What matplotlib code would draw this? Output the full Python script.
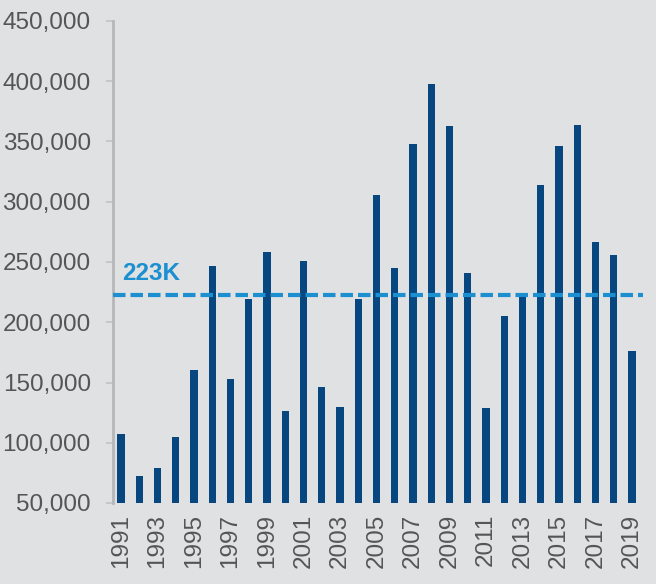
import matplotlib
matplotlib.use("Agg")
import matplotlib.pyplot as plt
from matplotlib.ticker import FuncFormatter, FixedLocator

years = list(range(1991, 2020))
values = [107000, 72000, 79000, 105000, 160000, 247000, 153000, 219000, 258000, 126000,
          251000, 146000, 130000, 219000, 306000, 245000, 348000, 398000, 363000, 241000,
          129000, 205000, 222000, 314000, 346000, 364000, 267000, 256000, 176000]
average = 223000
average_label = "223K"
y_ticks = [50000, 100000, 150000, 200000, 250000, 300000, 350000, 400000, 450000]

plt.rcParams['font.family'] = ['Liberation Sans', 'DejaVu Sans']

bg = '#dfe1e3'
fig = plt.figure(figsize=(6.56, 5.84), dpi=100, facecolor=bg)
ax = fig.add_axes([113/656, 1-503/584, (643-113)/656, (503-21)/584])
ax.set_facecolor(bg)

x = list(range(len(years)))
ax.bar(x, values, width=0.4, color='#07467f', zorder=2)
ax.axhline(average, color='#1b8fd0', lw=3, ls=(0, (3.0, 1.2)), zorder=3)
ax.text(0.05, average + 8000, average_label, color='#1b8fd0', fontsize=17.5,
        fontweight='bold', ha='left', va='bottom', zorder=4)

ax.set_xlim(-0.44, 28.6)
ax.set_ylim(50000, 450000)
ax.yaxis.set_major_locator(FixedLocator(y_ticks))
ax.yaxis.set_major_formatter(FuncFormatter(lambda v, p: f"{int(v):,}"))
ax.set_xticks(x[::2])
ax.set_xticklabels([str(y) for y in years[::2]], rotation=90)

for s in ['top', 'right', 'bottom']:
    ax.spines[s].set_visible(False)
ax.spines['left'].set_color('#b5b7b9')
ax.spines['left'].set_linewidth(2)

ax.tick_params(axis='y', colors='#c0c2c4', length=5, width=1.2, pad=11,
               labelsize=17.5, labelcolor='#555555')
ax.tick_params(axis='x', length=0, pad=8, labelsize=17.5, labelcolor='#555555')

fig.savefig('out.png', dpi=100, facecolor=bg)
